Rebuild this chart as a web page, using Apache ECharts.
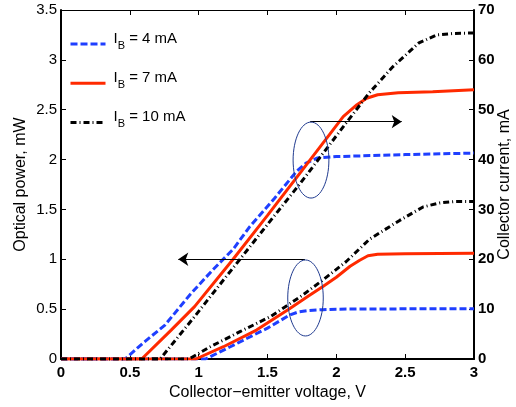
<!DOCTYPE html>
<html>
<head>
<meta charset="utf-8">
<script src="https://cdn.jsdelivr.net/npm/echarts@6/dist/echarts.min.js"></script>
<style>
  html, body { margin: 0; padding: 0; background: #fff; }
  #chart { width: 516px; height: 407px; }
</style>
</head>
<body>
<div id="chart"></div>
<script>
// Collector-emitter voltage sweep: optical power (left axis) and
// collector current (right axis) for three base currents.
const FONT = "'Liberation Sans', Arial, Helvetica, sans-serif";

// [voltage V, optical power mW]
const powerIB4 = [[0,0],[1.05,0],[1.23,0.123],[1.5,0.31],[1.66,0.44],[1.72,0.47],[1.79,0.485],[1.9,0.495],[2.0,0.5],[2.5,0.503],[3.0,0.505]];
const powerIB7 = [[0,0],[0.98,0],[1.18,0.123],[1.42,0.29],[1.66,0.505],[1.8,0.635],[1.9,0.725],[2.0,0.82],[2.1,0.93],[2.17,0.99],[2.23,1.035],[2.3,1.05],[2.5,1.055],[3.0,1.06]];
const powerIB10 = [[0,0],[0.93,0],[1.08,0.12],[1.3,0.274],[1.52,0.424],[1.74,0.625],[1.9,0.79],[2.07,0.975],[2.24,1.2],[2.46,1.39],[2.63,1.525],[2.75,1.565],[2.85,1.578],[3.0,1.58]];

// [voltage V, collector current mA]
const currentIB4 = [[0,0],[0.465,0],[0.6,3.3],[0.755,6.8],[0.94,13.0],[1.1,17.8],[1.25,22.0],[1.37,26.5],[1.55,32.2],[1.71,37.6],[1.78,39.3],[1.86,40.3],[2.0,40.6],[2.5,41.0],[3.0,41.3]];
const currentIB7 = [[0,0],[0.586,0],[0.8,5.8],[0.97,10.5],[1.25,20],[1.5,28.8],[1.75,37.8],[2.05,48.6],[2.15,51.0],[2.22,52.3],[2.3,53.0],[2.45,53.4],[2.7,53.6],[3.0,54.0]];
const currentIB10 = [[0,0],[0.72,0],[0.97,8.5],[1.19,16.2],[1.3,20],[1.5,27.0],[1.74,35.3],[2.07,47.3],[2.24,53.4],[2.41,58.6],[2.6,63.4],[2.73,65.0],[2.85,65.3],[3.0,65.4]];

const baseCurrents = ['IB4', 'IB7', 'IB10'];
const baseCurrentText = { IB4: '4 mA', IB7: '7 mA', IB10: '10 mA' };

// callouts: ellipse around each family, arrow toward its axis
const callouts = [
  { axis: 1, cx: 1.816, cy: 39.9, hw: 0.13, hh: 7.62, from: [1.81, 47.6], to: [2.475, 47.6] },
  { axis: 0, cx: 1.776, cy: 0.612, hw: 0.129, hh: 0.381, from: [1.772, 1.0], to: [0.852, 1.0] }
];

const styles = {
  IB4:  { color: '#1f3fff', width: 3, type: [7, 3] },
  IB7:  { color: '#ff2a00', width: 3, type: 'solid' },
  IB10: { color: '#000000', width: 3, type: [6, 3, 1, 3] }
};

function lineSeries(name, data, yAxisIndex) {
  const s = styles[name];
  return {
    name, type: 'line', data, yAxisIndex,
    symbol: 'none', smooth: false, silent: true, animation: false,
    lineStyle: { color: s.color, width: s.width, type: s.type },
    itemStyle: { color: s.color }
  };
}

function arrowMark(c) {
  return {
    silent: true, animation: false,
    symbol: ['none', 'arrow'], symbolSize: 10,
    label: { show: false },
    lineStyle: { color: '#000', width: 1, type: 'solid' },
    emphasis: { disabled: true },
    data: [[{ coord: c.from }, { coord: c.to }]]
  };
}

const series = [
  lineSeries('IB4', powerIB4, 0),
  lineSeries('IB7', powerIB7, 0),
  lineSeries('IB10', powerIB10, 0),
  lineSeries('IB4', currentIB4, 1),
  lineSeries('IB7', currentIB7, 1),
  lineSeries('IB10', currentIB10, 1)
];
series[5].markLine = arrowMark(callouts[0]);
series[2].markLine = arrowMark(callouts[1]);

const chart = echarts.init(document.getElementById('chart'), null, { renderer: 'canvas' });

const axisTick = { show: true, inside: true, length: 5, lineStyle: { color: '#000', width: 1 } };
const nameStyle = { fontSize: 16, color: '#000', fontFamily: FONT };

const option = {
  animation: false,
  backgroundColor: '#fff',
  textStyle: { fontFamily: FONT },
  grid: { left: 61, right: 42, top: 10, bottom: 48, containLabel: false, outerBoundsMode: 'none' },
  legend: {
    data: baseCurrents,
    orient: 'vertical',
    left: 69, top: 31, padding: 0,
    itemWidth: 35, itemHeight: 22, itemGap: 17.5,
    selectedMode: false,
    lineStyle: { width: 3 },
    itemStyle: { color: 'rgba(0,0,0,0)', borderWidth: 0, opacity: 0 },
    formatter: name => `{i0|I}{b|B}{i| = ${baseCurrentText[name]}}`,
    textStyle: {
      fontFamily: FONT,
      rich: {
        i0: { fontSize: 15, height: 11, lineHeight: 22, verticalAlign: 'top', color: '#000', fontFamily: FONT, padding: [0, 0, 0, 3] },
        i:  { fontSize: 15, height: 11, lineHeight: 22, verticalAlign: 'top', color: '#000', fontFamily: FONT },
        b:  { fontSize: 11, height: 11, lineHeight: 22, verticalAlign: 'top', color: '#000', fontFamily: FONT, padding: [7, 0, 0, 0] }
      }
    }
  },
  xAxis: [
    {
      type: 'value', min: 0, max: 3, interval: 0.5, position: 'bottom',
      name: 'Collector\u2212emitter voltage, V', nameLocation: 'middle', nameGap: 22,
      nameTextStyle: nameStyle,
      axisLine: { show: true, onZero: false, lineStyle: { color: '#000', width: 2 } },
      axisTick,
      axisLabel: { fontSize: 15, fontWeight: 'bold', color: '#000', margin: 6, fontFamily: FONT },
      splitLine: { show: false }
    },
    {
      type: 'value', min: 0, max: 3, interval: 0.5, position: 'top',
      axisLine: { show: true, onZero: false, lineStyle: { color: '#000', width: 1 } },
      axisTick,
      axisLabel: { show: false },
      splitLine: { show: false }
    }
  ],
  yAxis: [
    {
      type: 'value', min: 0, max: 3.5, interval: 0.5, position: 'left',
      name: 'Optical power, mW', nameLocation: 'middle', nameGap: 32, nameRotate: 90,
      nameMoveOverlap: false,
      nameTextStyle: nameStyle,
      axisLine: { show: true, onZero: false, lineStyle: { color: '#000', width: 2 } },
      axisTick,
      axisLabel: { fontSize: 15, color: '#000', margin: 4, fontFamily: FONT },
      splitLine: { show: false }
    },
    {
      type: 'value', min: 0, max: 70, interval: 10, position: 'right',
      name: 'Collector current, mA', nameLocation: 'middle', nameGap: 23, nameRotate: 90,
      nameMoveOverlap: false,
      nameTextStyle: nameStyle,
      axisLine: { show: true, onZero: false, lineStyle: { color: '#000', width: 2 } },
      axisTick,
      axisLabel: { fontSize: 15, fontWeight: 'bold', color: '#000', margin: 4, fontFamily: FONT },
      splitLine: { show: false }
    }
  ],
  series
};

chart.setOption(option);

// ellipses drawn in pixel space from their data-space centre and half-extents
function drawCallouts() {
  const elements = callouts.map(c => {
    const finder = { xAxisIndex: 0, yAxisIndex: c.axis };
    const centre = chart.convertToPixel(finder, [c.cx, c.cy]);
    const corner = chart.convertToPixel(finder, [c.cx + c.hw, c.cy + c.hh]);
    return {
      type: 'ellipse', silent: true, z: 10,
      shape: { cx: centre[0], cy: centre[1], rx: Math.abs(corner[0] - centre[0]), ry: Math.abs(corner[1] - centre[1]) },
      style: { fill: 'none', stroke: '#1f3a8f', lineWidth: 1 }
    };
  });
  chart.setOption({ graphic: elements });
}
drawCallouts();
</script>
</body>
</html>
